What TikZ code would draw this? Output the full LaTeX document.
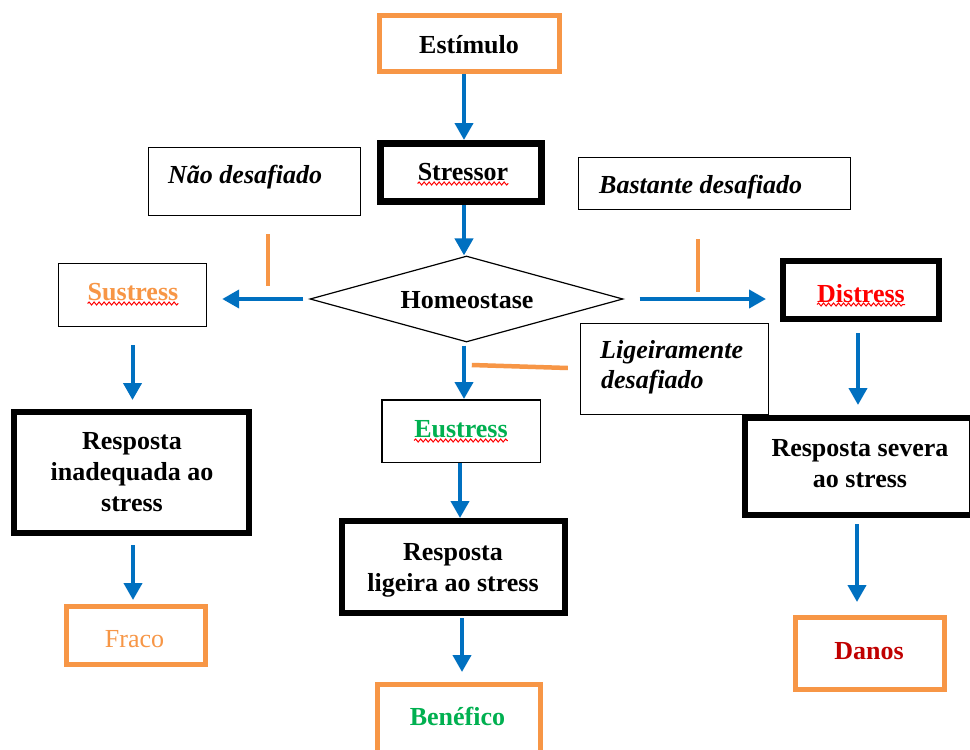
\documentclass[tikz,border=0pt]{standalone}
\usepackage{fontspec}
\setmainfont{Liberation Serif}
\usetikzlibrary{arrows.meta,shapes.geometric,decorations.pathmorphing}
\definecolor{cblue}{HTML}{0070C0}
\definecolor{corange}{HTML}{F79646}
\definecolor{cred}{HTML}{FF0000}
\definecolor{cdred}{HTML}{C00000}
\definecolor{cgreen}{HTML}{00B050}
\tikzset{
  box/.style={draw, rectangle, inner sep=0pt},
  thinbox/.style={box, line width=1.4pt},
  blackbox/.style={box, line width=6pt},
  orangebox/.style={box, draw=corange, line width=5pt},
  txt/.style={inner sep=0pt, anchor=base, font=\fontsize{26}{31}\selectfont\bfseries},
  itxt/.style={txt, anchor=base west, font=\fontsize{26}{31}\selectfont\bfseries\itshape},
  arr/.style={draw=cblue, line width=4pt, -{Triangle[length=17pt,width=18pt]}},
  oline/.style={draw=corange, line width=4.5pt},
  wavy/.style={draw=red, line width=1pt, decorate, decoration={snake, amplitude=1.5pt, segment length=5pt}}
}
\begin{document}
\begin{tikzpicture}[x=1pt,y=-1pt]
\fill[white] (0,0) rectangle (970,750);
\useasboundingbox (0,0) rectangle (970,750);

% boxes
\node[orangebox, minimum width=180pt, minimum height=56pt] (est) at (469.5,43.5) {};
\node[box, line width=7pt, minimum width=161pt, minimum height=58pt] (str) at (461,172.5) {};
\node[draw, diamond, line width=1.2pt, inner sep=0pt, minimum width=313pt, minimum height=86pt] (homeo) at (466.5,299) {};
\node[thinbox, minimum width=212pt, minimum height=68pt] (nd) at (254.5,181.5) {};
\node[thinbox, minimum width=272pt, minimum height=52pt] (bd) at (714.5,183.5) {};
\node[thinbox, minimum width=188pt, minimum height=91pt] (ld) at (674.5,369) {};
\node[thinbox, minimum width=148pt, minimum height=63pt] (sus) at (132.5,295) {};
\node[blackbox, minimum width=156pt, minimum height=58pt] (dis) at (861,290) {};
\node[box, line width=1.5pt, minimum width=158.5pt, minimum height=62.5pt] (eus) at (461,431) {};
\node[blackbox, minimum width=235pt, minimum height=121pt] (inad) at (131.5,472.5) {};
\node[blackbox, minimum width=223pt, minimum height=92pt] (lig) at (453.5,567) {};
\node[blackbox, minimum width=227pt, minimum height=97pt] (sev) at (858.5,466.5) {};
\node[orangebox, minimum width=139pt, minimum height=58pt] (fraco) at (136,635.5) {};
\node[orangebox, minimum width=163pt, minimum height=73pt] (ben) at (459,721) {};
\node[orangebox, minimum width=149pt, minimum height=72pt] (danos) at (870,653.5) {};

% texts
\node[txt] (estt) at (469,53) {Estímulo};
\node[txt] (strt) at (463,180) {Stressor};
\node[txt] (homt) at (467,308) {Homeostase};
\node[itxt] (ndt) at (168,183) {Não desafiado};
\node[itxt] (bdt) at (599,193) {Bastante desafiado};
\node[itxt] (ldt1) at (600,358) {Ligeiramente};
\node[itxt] (ldt2) at (601,388) {desafiado};
\node[txt, text=corange] (sust) at (133,300) {Sustress};
\node[txt, text=cred] (dist) at (861,302) {Distress};
\node[txt, text=cgreen] (eust) at (461,437) {Eustress};
\node[txt] (inat1) at (132,449) {Resposta};
\node[txt] (inat2) at (132,480) {inadequada ao};
\node[txt] (inat3) at (132,511) {stress};
\node[txt] (ligt1) at (453,560) {Resposta};
\node[txt] (ligt2) at (453,591) {ligeira ao stress};
\node[txt] (sevt1) at (860,456) {Resposta severa};
\node[txt] (sevt2) at (860,487) {ao stress};
\node[txt, text=corange, font=\fontsize{26}{31}\selectfont] (fracot) at (134.5,647) {Fraco};
\node[txt, text=cgreen] (bent) at (457.5,725) {Benéfico};
\node[txt, text=cdred] (danost) at (869,659) {Danos};

% spell-check underlines
\draw[wavy] ([yshift=-3.5pt]strt.base west) -- ([yshift=-3.5pt]strt.base east);
\draw[wavy] ([yshift=-3.5pt]sust.base west) -- ([yshift=-3.5pt]sust.base east);
\draw[wavy] ([yshift=-2.5pt]dist.base west) -- ([yshift=-2.5pt]dist.base east);
\draw[wavy] ([yshift=-3.5pt]eust.base west) -- ([yshift=-3.5pt]eust.base east);

% arrows
\draw[arr] ([xshift=-5.5pt]est.south) -- ([xshift=3pt]str.north);
\draw[arr] ([xshift=3pt]str.south) -- ([xshift=-2.5pt]homeo.north);
\draw[arr, shorten <=6pt, shorten >=15pt] (homeo.west) -- (homeo.west -| sus.east);
\draw[arr, shorten <=16pt, shorten >=14pt] (homeo.east) -- (homeo.east -| dis.west);
\draw[arr, shorten <=3pt] ([xshift=-2.5pt]homeo.south) -- ([xshift=3pt]eus.north);
\draw[arr, shorten <=18pt, shorten >=9pt] (sus.south) -- (sus.south |- inad.north);
\draw[arr, shorten <=9pt, shorten >=4pt] ([xshift=1.5pt]inad.south) -- ([xshift=1.5pt]inad.south |- fraco.north);
\draw[arr] ([xshift=-1pt]eus.south) -- ([xshift=-1pt]eus.south |- lig.north);
\draw[arr, shorten <=2pt, shorten >=10pt] ([xshift=8.5pt]lig.south) -- ([xshift=8.5pt]lig.south |- ben.north);
\draw[arr, shorten <=11pt, shorten >=10pt] ([xshift=-3pt]dis.south) -- ([xshift=-3pt]dis.south |- sev.north);
\draw[arr, shorten <=6pt, shorten >=13pt] ([xshift=-1.5pt]sev.south) -- ([xshift=-1.5pt]sev.south |- danos.north);

% orange markers
\draw[oline] ([xshift=13.5pt,yshift=-18pt]nd.south) -- ([xshift=13.5pt,yshift=-70pt]nd.south);
\draw[oline] ([xshift=-16.5pt,yshift=-29pt]bd.south) -- ([xshift=-16.5pt,yshift=-82pt]bd.south);
\draw[oline] ([xshift=-12pt,yshift=1pt]ld.west) -- ([xshift=-108pt,yshift=4pt]ld.west);
\end{tikzpicture}
\end{document}
